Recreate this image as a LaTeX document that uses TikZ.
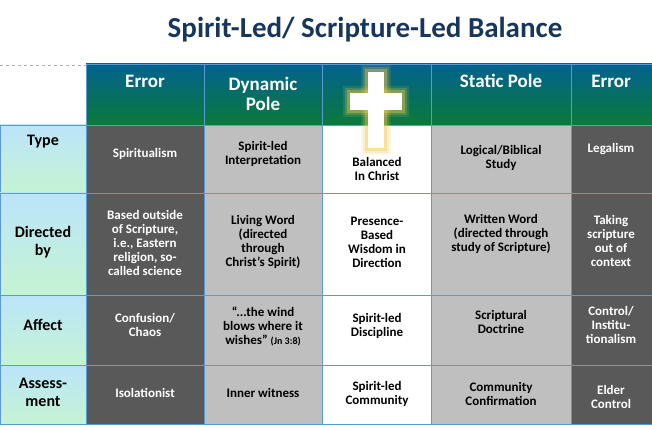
\documentclass[tikz,border=0pt]{standalone}
\usepackage{fontspec}
\setmainfont{Carlito}
\definecolor{navy}{HTML}{17365D}
\definecolor{hdtop}{HTML}{02628F}
\definecolor{hdbot}{HTML}{0B7A3A}
\definecolor{lbtop}{HTML}{BCE4FA}
\definecolor{lbbot}{HTML}{C4F4D2}
\definecolor{dk}{HTML}{595959}
\definecolor{lt}{HTML}{BFBFBF}
\definecolor{grid}{HTML}{5B9BD5}
\definecolor{glow}{HTML}{F2C94C}
\begin{document}
\begin{tikzpicture}[x=1pt,y=-1pt,
  cell/.style={draw=grid,line width=0.8pt},
  wt/.style={text=white,font=\bfseries\fontsize{13}{14}\selectfont,align=center},
  bt/.style={text=black,font=\bfseries\fontsize{13}{14}\selectfont,align=center},
  ht/.style={text=white,font=\bfseries\fontsize{19}{20}\selectfont,align=center},
  lt/.style={text=black,font=\bfseries\fontsize{16}{18}\selectfont,align=center}]
\useasboundingbox (0,0) rectangle (652,430);
\node[text=navy,font=\bfseries\fontsize{29}{32}\selectfont] (title) at (365,30) {Spirit-Led/ Scripture-Led Balance};
\draw[gray!60,dashed] (0,65) -- (86,65);
% header
\shade[top color=hdtop,bottom color=hdbot] (86,64) rectangle (652,125);
\foreach \a/\b in {86/204,204/322,322/431,431/571,571/652}{\draw[cell] (\a,64) rectangle (\b,125);}
% label col
\foreach \a/\b in {125/193,193/295,295/365,365/424}{
 \shade[top color=lbtop,bottom color=lbbot,draw=grid,line width=0.8pt] (0,\a) rectangle (86,\b);}
% body cells
\foreach \a/\b in {125/193,193/295,295/365,365/424}{
 \filldraw[cell,fill=dk] (86,\a) rectangle (204,\b);
 \filldraw[cell,fill=lt] (204,\a) rectangle (322,\b);
 \filldraw[cell,fill=white] (322,\a) rectangle (431,\b);
 \filldraw[cell,fill=lt] (431,\a) rectangle (571,\b);
 \filldraw[cell,fill=dk] (571,\a) rectangle (652,\b);}
% cross
\foreach \w/\o in {7/0.12,5/0.2,3/0.35}{
 \fill[glow,opacity=\o] (368-\w,72-\w) rectangle (384+\w,148+\w);
 \fill[glow,opacity=\o] (350-\w,93-\w) rectangle (402+\w,110+\w);}
\fill[white] (368,72) rectangle (384,148);
\fill[white] (350,93) rectangle (402,110);
% header text
\node[ht] (h1) at (145,81) {Error};
\node[ht] (h2) at (263,94) {Dynamic\\Pole};
\node[ht] (h4) at (501,81) {Static Pole};
\node[ht] (h5) at (611,81) {Error};
% labels
\node[lt] (l1) at (43,142) {Type};
\node[lt] (l2) at (43,242) {Directed\\by};
\node[lt] (l3) at (43,325) {Affect};
\node[lt] (l4) at (43,392) {Assess-\\ment};
% row 1
\node[wt] at (145,154) {Spiritualism};
\node[bt] at (263,154) {Spirit-led\\Interpretation};
\node[bt] at (377,169) {Balanced\\In Christ};
\node[bt] at (501,158) {Logical/Biblical\\Study};
\node[wt] at (611,149) {Legalism};
% row 2
\node[wt] at (145,243) {Based outside\\of Scripture,\\i.e., Eastern\\religion, so-\\called science};
\node[bt] at (263,242) {Living Word\\(directed\\through\\Christ’s Spirit)};
\node[bt] at (377,242) {Presence-\\Based\\Wisdom in\\Direction};
\node[bt] at (501,234) {Written Word\\(directed through\\study of Scripture)};
\node[wt] at (611,241) {Taking\\scripture\\out of\\context};
% row 3
\node[wt] at (145,325) {Confusion/\\Chaos};
\node[bt] at (263,326) {“...the wind\\blows where it\\wishes” {\fontsize{10}{12}\selectfont(Jn 3:8)}};
\node[bt] at (377,326) {Spirit-led\\Discipline};
\node[bt] at (501,322) {Scriptural\\Doctrine};
\node[wt] at (611,325) {Control/\\Institu-\\tionalism};
% row 4
\node[wt] at (145,393) {Isolationist};
\node[bt] at (263,393) {Inner witness};
\node[bt] at (377,394) {Spirit-led\\Community};
\node[bt] at (501,394) {Community\\Confirmation};
\node[wt] at (611,397) {Elder\\Control};
\end{tikzpicture}
\end{document}
